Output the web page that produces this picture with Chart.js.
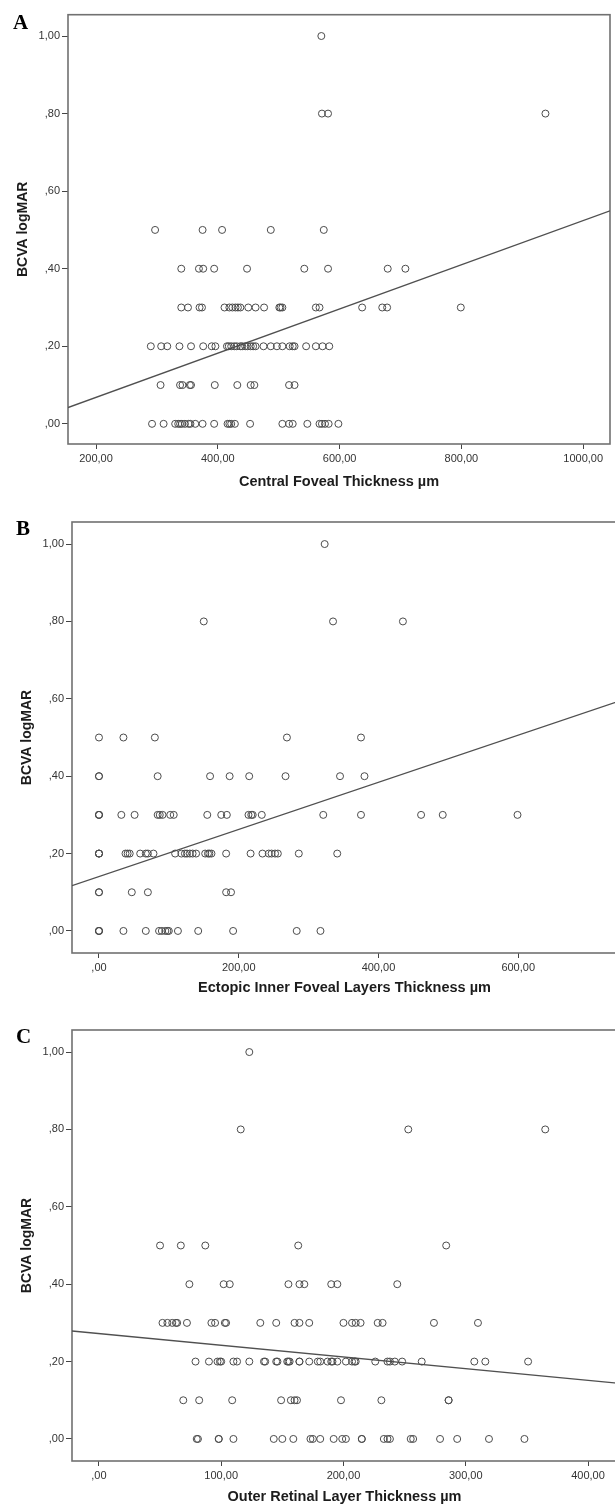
<!DOCTYPE html>
<html>
<head>
<meta charset="utf-8">
<script src="https://cdn.jsdelivr.net/npm/chart.js@4.4.1/dist/chart.umd.min.js"></script>
<style>
    html, body { margin: 0; padding: 0; background: #fff; overflow: hidden; }
    #page { position: relative; width: 615px; height: 1506px; overflow: hidden; }
    #page canvas { position: absolute; left: 0; }
    .tag { position: absolute; font: bold 21px "Liberation Serif", "Times New Roman", serif; line-height: 21px; color: #000; }
</style>
</head>
<body>
<div id="page">
    <canvas id="chartA" width="615" height="500" style="top:0px"></canvas>
    <canvas id="chartB" width="622" height="500" style="top:500px"></canvas>
    <canvas id="chartC" width="622" height="506" style="top:1000px"></canvas>
    <div class="tag" style="left:13px; top:12px">A</div>
    <div class="tag" style="left:16px; top:518px">B</div>
    <div class="tag" style="left:16px; top:1026px">C</div>
</div>

<script>
// ========================================
// DATA
// ========================================

// BCVA logMAR levels, one row of points per level
const bcvaLevels = [1.0, 0.8, 0.5, 0.4, 0.3, 0.2, 0.1, 0.0];
const yTicks = [0, 0.2, 0.4, 0.6, 0.8, 1.0];

// A - Central Foveal Thickness (µm) per level
const cftRows = [
    [570],
    [571, 581, 938],
    [297, 375, 407, 487, 574],
    [340, 369, 376, 394, 448, 542, 581, 679, 708],
    [340, 351, 370, 374, 411, 419, 424, 429, 433, 437, 450, 462, 476, 501, 503, 506, 561, 567, 637, 670, 678, 799],
    [290, 307, 317, 337, 356, 376, 390, 396, 415, 418, 422, 427, 431, 437, 440, 445, 449, 454, 458, 462, 475, 487, 497, 506, 518, 523, 526, 545, 561, 572, 583],
    [306, 338, 342, 354, 356, 395, 432, 454, 460, 517, 526],
    [292, 311, 330, 335, 338, 341, 346, 352, 355, 363, 375, 394, 416, 419, 422, 428, 453, 506, 517, 523, 547, 567, 571, 576, 582, 598]
];
const cftTicks = [200, 400, 600, 800, 1000];
const cftFit = [-0.0458, 0.00057]; // intercept, slope

// B - Ectopic Inner Foveal Layers Thickness (µm) per level
const eiflRows = [
    [323],
    [150, 335, 435],
    [0, 35, 80, 269, 375],
    [0, 0, 84, 159, 187, 215, 267, 345, 380],
    [0, 0, 0, 32, 51, 84, 87, 91, 102, 107, 155, 175, 183, 214, 218, 220, 233, 321, 375, 461, 492, 599],
    [0, 0, 0, 38, 41, 44, 59, 67, 70, 78, 109, 118, 123, 126, 130, 134, 139, 152, 156, 158, 161, 182, 217, 234, 243, 247, 252, 256, 286, 341],
    [0, 0, 47, 70, 182, 189],
    [0, 0, 0, 35, 67, 86, 90, 95, 98, 100, 113, 142, 192, 283, 317]
];
const eiflTicks = [0, 200, 400, 600];
const eiflFit = [0.1405, 0.000609];

// C - Outer Retinal Layer Thickness (µm) per level
const orlRows = [
    [123],
    [116, 253, 365],
    [50, 67, 87, 163, 284],
    [74, 102, 107, 155, 164, 168, 190, 195, 244],
    [52, 56, 60, 63, 64, 72, 92, 95, 103, 104, 132, 145, 160, 164, 172, 200, 207, 210, 214, 228, 232, 274, 310],
    [79, 90, 97, 99, 100, 110, 113, 123, 135, 136, 145, 146, 154, 155, 156, 164, 164, 172, 179, 181, 187, 190, 191, 195, 202, 207, 209, 210, 226, 236, 238, 242, 248, 264, 307, 316, 351],
    [69, 82, 109, 149, 157, 160, 162, 198, 231, 286, 286],
    [80, 81, 98, 98, 110, 143, 150, 159, 173, 175, 181, 192, 199, 202, 215, 215, 233, 236, 238, 255, 257, 279, 293, 319, 348]
];
const orlTicks = [0, 100, 200, 300, 400];
const orlFit = [0.2724, -0.000302];

// ========================================
// HELPERS
// ========================================

Chart.defaults.font.family = '"Liberation Sans", Arial, sans-serif';

// SPSS style numbers: 1,00  ,80  200,00
function spssNum(v) {
    const s = v.toFixed(2).replace('.', ',');
    return s.startsWith('0,') ? s.slice(1) : s;
}

function toPoints(rows) {
    return rows.flatMap((xs, i) => xs.map(x => ({ x: x, y: bcvaLevels[i] })));
}

// Box round the plot area
const framePlugin = {
    id: 'frame',
    beforeDatasetsDraw(chart) {
        const { ctx, chartArea: a } = chart;
        ctx.save();
        ctx.strokeStyle = '#717171';
        ctx.lineWidth = 1.6;
        ctx.strokeRect(a.left, a.top, a.right - a.left, a.bottom - a.top);
        ctx.restore();
    }
};

function makePanel(id, rows, fit, xTicks, cfg) {
    const ctx = document.getElementById(id).getContext('2d');
    return new Chart(ctx, {
        type: 'scatter',
        data: {
            datasets: [{
                data: toPoints(rows),
                pointStyle: 'circle',
                pointRadius: 3.5,
                borderWidth: 1,
                borderColor: '#4b4b4b',
                backgroundColor: 'rgba(0,0,0,0)'
            }, {
                type: 'line',
                data: [
                    { x: cfg.xMin, y: fit[0] + fit[1] * cfg.xMin },
                    { x: cfg.xMax, y: fit[0] + fit[1] * cfg.xMax }
                ],
                borderColor: '#505050',
                borderWidth: 1.3,
                pointRadius: 0,
                fill: false
            }]
        },
        options: {
            responsive: false,
            animation: false,
            events: [],
            layout: { padding: { top: cfg.padTop, right: cfg.padRight, bottom: 0, left: 0 } },
            plugins: { legend: { display: false }, tooltip: { enabled: false } },
            scales: {
                x: {
                    type: 'linear',
                    min: cfg.xMin,
                    max: cfg.xMax,
                    afterBuildTicks: s => { s.ticks = xTicks.map(v => ({ value: v })); },
                    afterFit: s => { s.height = cfg.xHeight; },
                    border: { display: false },
                    grid: { drawOnChartArea: false, drawTicks: true, tickLength: 5, color: '#444' },
                    ticks: { autoSkip: false, maxRotation: 0, padding: 3, color: '#333', font: { size: 11 }, callback: v => spssNum(v) },
                    title: { display: true, text: cfg.xTitle, color: '#1c1c1c', font: { size: 14.5, weight: 'bold' }, padding: { top: 0, bottom: cfg.xTitlePad } }
                },
                y: {
                    type: 'linear',
                    min: cfg.yMin,
                    max: cfg.yMax,
                    afterBuildTicks: s => { s.ticks = yTicks.map(v => ({ value: v })); },
                    afterFit: s => { s.width = cfg.yWidth; },
                    border: { display: false },
                    grid: { drawOnChartArea: false, drawTicks: true, tickLength: 6, color: '#444' },
                    ticks: { autoSkip: false, padding: 2, color: '#333', font: { size: 11 }, callback: v => spssNum(v) },
                    title: { display: true, text: 'BCVA logMAR', color: '#1c1c1c', font: { size: 14, weight: 'bold' }, padding: { top: cfg.yTitlePad, bottom: 0 } }
                }
            }
        },
        plugins: [framePlugin]
    });
}

// ========================================
// PANELS
// ========================================

makePanel('chartA', cftRows, cftFit, cftTicks, {
    xMin: 154, xMax: 1044, yMin: -0.052, yMax: 1.055,
    padTop: 14.7, padRight: 3, yWidth: 68, xHeight: 56,
    xTitlePad: 9.3, yTitlePad: 15.1,
    xTitle: 'Central Foveal Thickness µm'
});

makePanel('chartB', eiflRows, eiflFit, eiflTicks, {
    xMin: -38.6, xMax: 741.4, yMin: -0.057, yMax: 1.057,
    padTop: 22, padRight: 4, yWidth: 72, xHeight: 47,
    xTitlePad: 3.3, yTitlePad: 18.6,
    xTitle: 'Ectopic Inner Foveal Layers Thickness µm'
});

makePanel('chartC', orlRows, orlFit, orlTicks, {
    xMin: -22, xMax: 423.7, yMin: -0.057, yMax: 1.057,
    padTop: 30, padRight: 4, yWidth: 72, xHeight: 45,
    xTitlePad: 0, yTitlePad: 18.6,
    xTitle: 'Outer Retinal Layer Thickness µm'
});
</script>
</body>
</html>
